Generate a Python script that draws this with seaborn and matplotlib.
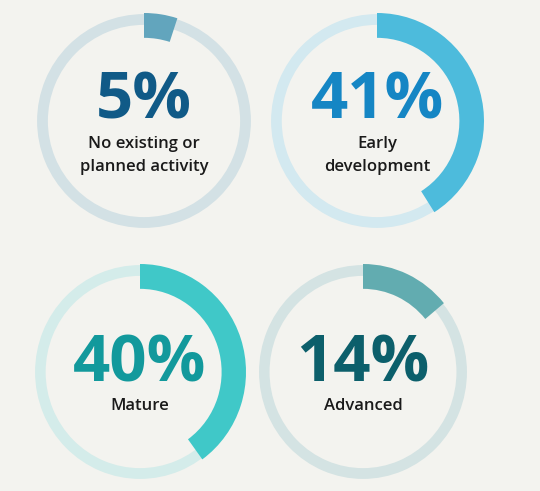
import matplotlib
matplotlib.use("Agg")
import matplotlib.pyplot as plt
import seaborn as sns

# Data
shares = [5, 41, 40, 14]
labels = ["No existing or\nplanned activity", "Early\ndevelopment", "Mature", "Advanced"]
ring_colors = ["#62a5bd", "#4dbbdc", "#40c8c8", "#62acb0"]
track_colors = ["#d3e1e5", "#d3e9f0", "#d4ecea", "#d4e3e3"]
number_colors = ["#105a87", "#1586c4", "#12999c", "#0c5f6b"]

page_bg = "#f3f3ef"

sns.set_theme(style="white", rc={"figure.facecolor": page_bg, "axes.facecolor": page_bg})
plt.rcParams["font.family"] = ["Open Sans", "DejaVu Sans"]

W, H = 540, 491
fig = plt.figure(figsize=(W / 100, H / 100), dpi=100)

# ring centre (px from top-left) and horizontal / vertical radius in px
ring_boxes = [(144, 121, 108, 108), (377, 121, 107, 108),
              (140, 372, 106, 108), (363, 372, 105, 108)]

for i, (cx, cy, rx, ry) in enumerate(ring_boxes):
    ax = fig.add_axes([(cx - rx) / W, (H - cy - ry) / H, 2 * rx / W, 2 * ry / H])
    # background track
    ax.pie([1], radius=0.99, colors=[track_colors[i]],
           wedgeprops=dict(width=0.1, linewidth=0))
    # filled share, clockwise from 12 o'clock
    ax.pie([shares[i], 100 - shares[i]], radius=1.0, startangle=90, counterclock=False,
           colors=[ring_colors[i], "none"], wedgeprops=dict(width=0.23, linewidth=0))
    ax.set_aspect("auto")
    ax.set_xlim(-1, 1)
    ax.set_ylim(-1, 1)
    ax.axis("off")

    # centre the number + label block vertically
    lines = labels[i].split("\n")
    num_h, gap, lead = 0.44, 0.27, 0.215
    block = num_h + gap + (len(lines) - 1) * lead
    base = block / 2 - num_h
    ax.text(0, base, f"{shares[i]}%", ha="center", va="baseline",
            fontsize=47, fontweight="bold", color=number_colors[i])
    for k, line in enumerate(lines):
        ax.text(0, base - gap - k * lead, line, ha="center", va="baseline",
                fontsize=12, fontweight="semibold", color="#1a1a1a")

fig.savefig("out.png", dpi=100, facecolor=page_bg)
